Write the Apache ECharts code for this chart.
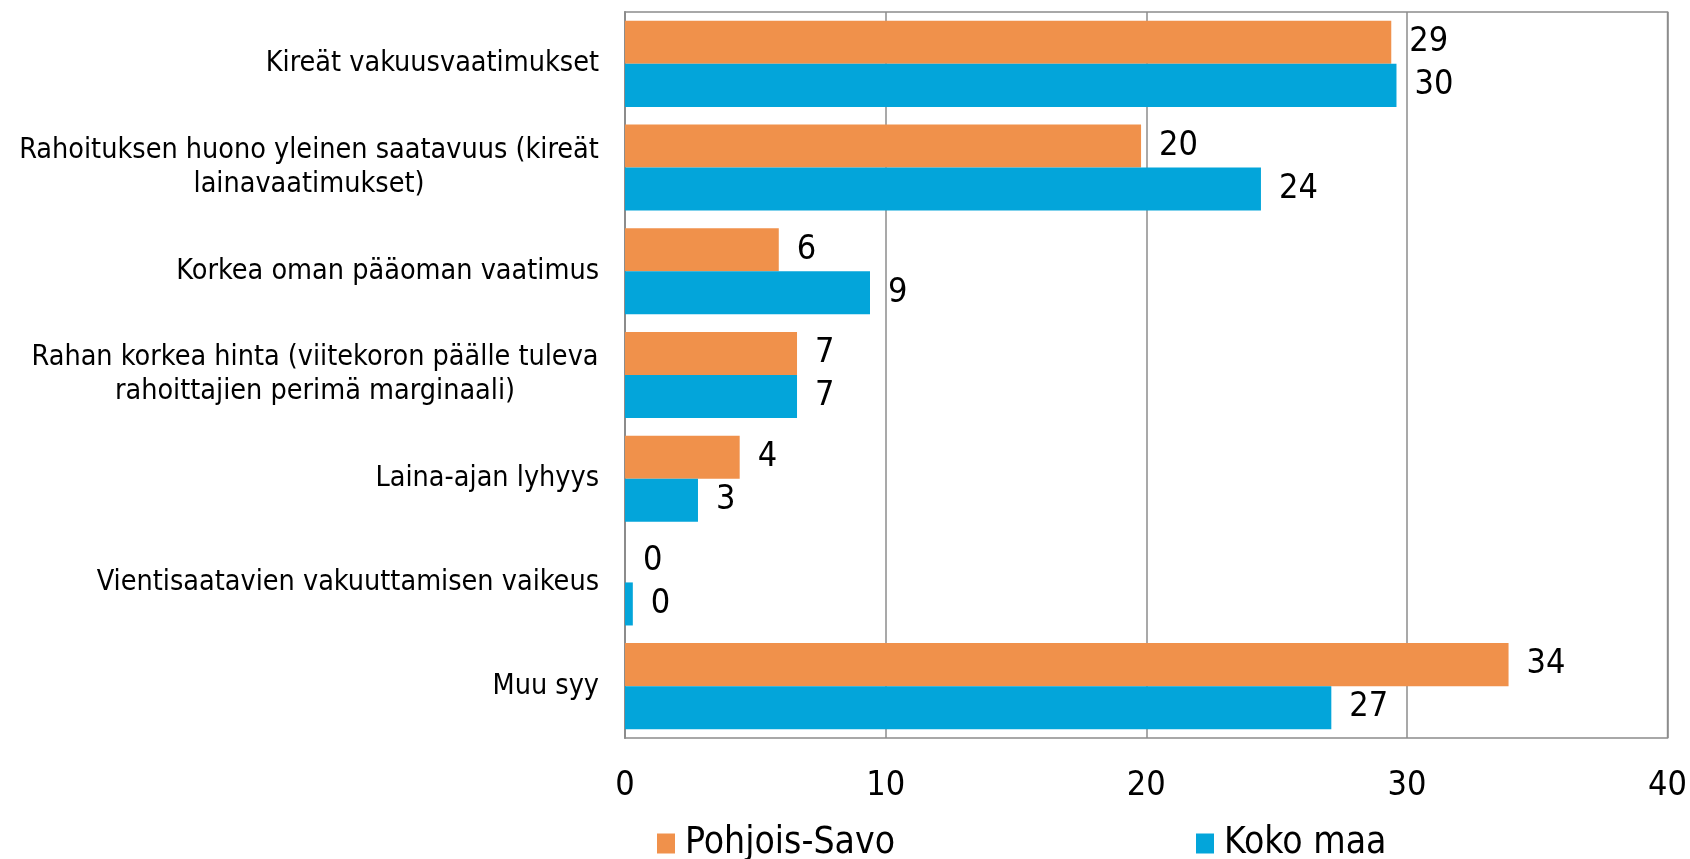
<!DOCTYPE html>
<html>
<head>
<meta charset="utf-8">
<script src="https://cdn.jsdelivr.net/npm/echarts@6/dist/echarts.min.js"></script>
<style>
  html, body { margin: 0; padding: 0; background: #fff; }
  #chart { width: 1690px; height: 859px; }
</style>
</head>
<body>
<div id="chart"></div>
<script>
const categories = [
  "Kireät vakuusvaatimukset",
  "Rahoituksen huono yleinen saatavuus (kireät\nlainavaatimukset)",
  "Korkea oman pääoman vaatimus",
  "Rahan korkea hinta (viitekoron päälle tuleva\nrahoittajien perimä marginaali)",
  "Laina-ajan lyhyys",
  "Vientisaatavien vakuuttamisen vaikeus",
  "Muu syy"
]
const pohjoisSavo = [29.4, 19.8, 5.9, 6.6, 4.4, 0, 33.9]
const kokoMaa = [29.6, 24.4, 9.4, 6.6, 2.8, 0.3, 27.1]
const xTicks = [0, 10, 20, 30, 40]

const FONT = "'DejaVu Sans Condensed', 'Liberation Sans Narrow', sans-serif"
const catSize = 28.5

// multi-line labels: lines centred in a block that is right-aligned to the axis
const ctx = document.createElement("canvas").getContext("2d")
ctx.font = catSize + "px " + FONT
const rich = {}
const labelText = {}
categories.forEach(function (c, i) {
  const lines = c.split("\n")
  if (lines.length > 1) {
    const w = Math.max.apply(null, lines.map(l => ctx.measureText(l).width))
    rich["c" + i] = { width: Math.ceil(w), align: "center", fontSize: catSize, fontFamily: FONT, color: "#000", lineHeight: 34 }
    labelText[c] = lines.map(l => "{c" + i + "|" + l + "}").join("\n")
  } else {
    labelText[c] = c
  }
})

const myChart = echarts.init(document.getElementById("chart"))

const legendText = { fontSize: 37, color: "#000", fontFamily: FONT, padding: [0, 0, 0, 5] }

const option = {
  animation: false,
  textStyle: { fontFamily: FONT },
  grid: {
    left: 625, right: 22, top: 12, bottom: 121,
    show: true, borderColor: "#8c8c8c", borderWidth: 1.5,
    containLabel: false
  },
  legend: [
    {
      data: ["Pohjois-Savo"], left: 652, top: 820, icon: "rect",
      itemWidth: 18, itemHeight: 20, itemGap: 6,
      textStyle: legendText
    },
    {
      data: ["Koko maa"], left: 1191, top: 820, icon: "rect",
      itemWidth: 18, itemHeight: 20, itemGap: 6,
      textStyle: legendText
    }
  ],
  xAxis: {
    type: "value",
    min: xTicks[0], max: xTicks[xTicks.length - 1], interval: 10,
    axisLine: { show: false },
    axisTick: { show: false },
    axisLabel: { fontSize: 34, color: "#000", margin: 31, fontFamily: FONT },
    splitLine: { show: true, lineStyle: { color: "#8c8c8c", width: 1.5 } }
  },
  yAxis: {
    type: "category",
    inverse: true,
    data: categories,
    axisLine: { show: true, lineStyle: { color: "#8c8c8c", width: 2 } },
    axisTick: { show: false },
    axisLabel: {
      fontSize: catSize, color: "#000", margin: 26, fontFamily: FONT, lineHeight: 34,
      formatter: function (v) { return labelText[v] },
      rich: rich
    }
  },
  series: [
    {
      name: "Pohjois-Savo", type: "bar", data: pohjoisSavo,
      barGap: "0%", barCategoryGap: "17%",
      itemStyle: { color: "#F0914B" },
      label: {
        show: true, position: "right", distance: 18, fontSize: 34, color: "#000", fontFamily: FONT,
        formatter: p => Math.round(p.value)
      }
    },
    {
      name: "Koko maa", type: "bar", data: kokoMaa,
      barGap: "0%", barCategoryGap: "17%",
      itemStyle: { color: "#03A5DA" },
      label: {
        show: true, position: "right", distance: 18, fontSize: 34, color: "#000", fontFamily: FONT,
        formatter: p => Math.round(p.value)
      }
    }
  ]
}

option && myChart.setOption(option)
</script>
</body>
</html>
